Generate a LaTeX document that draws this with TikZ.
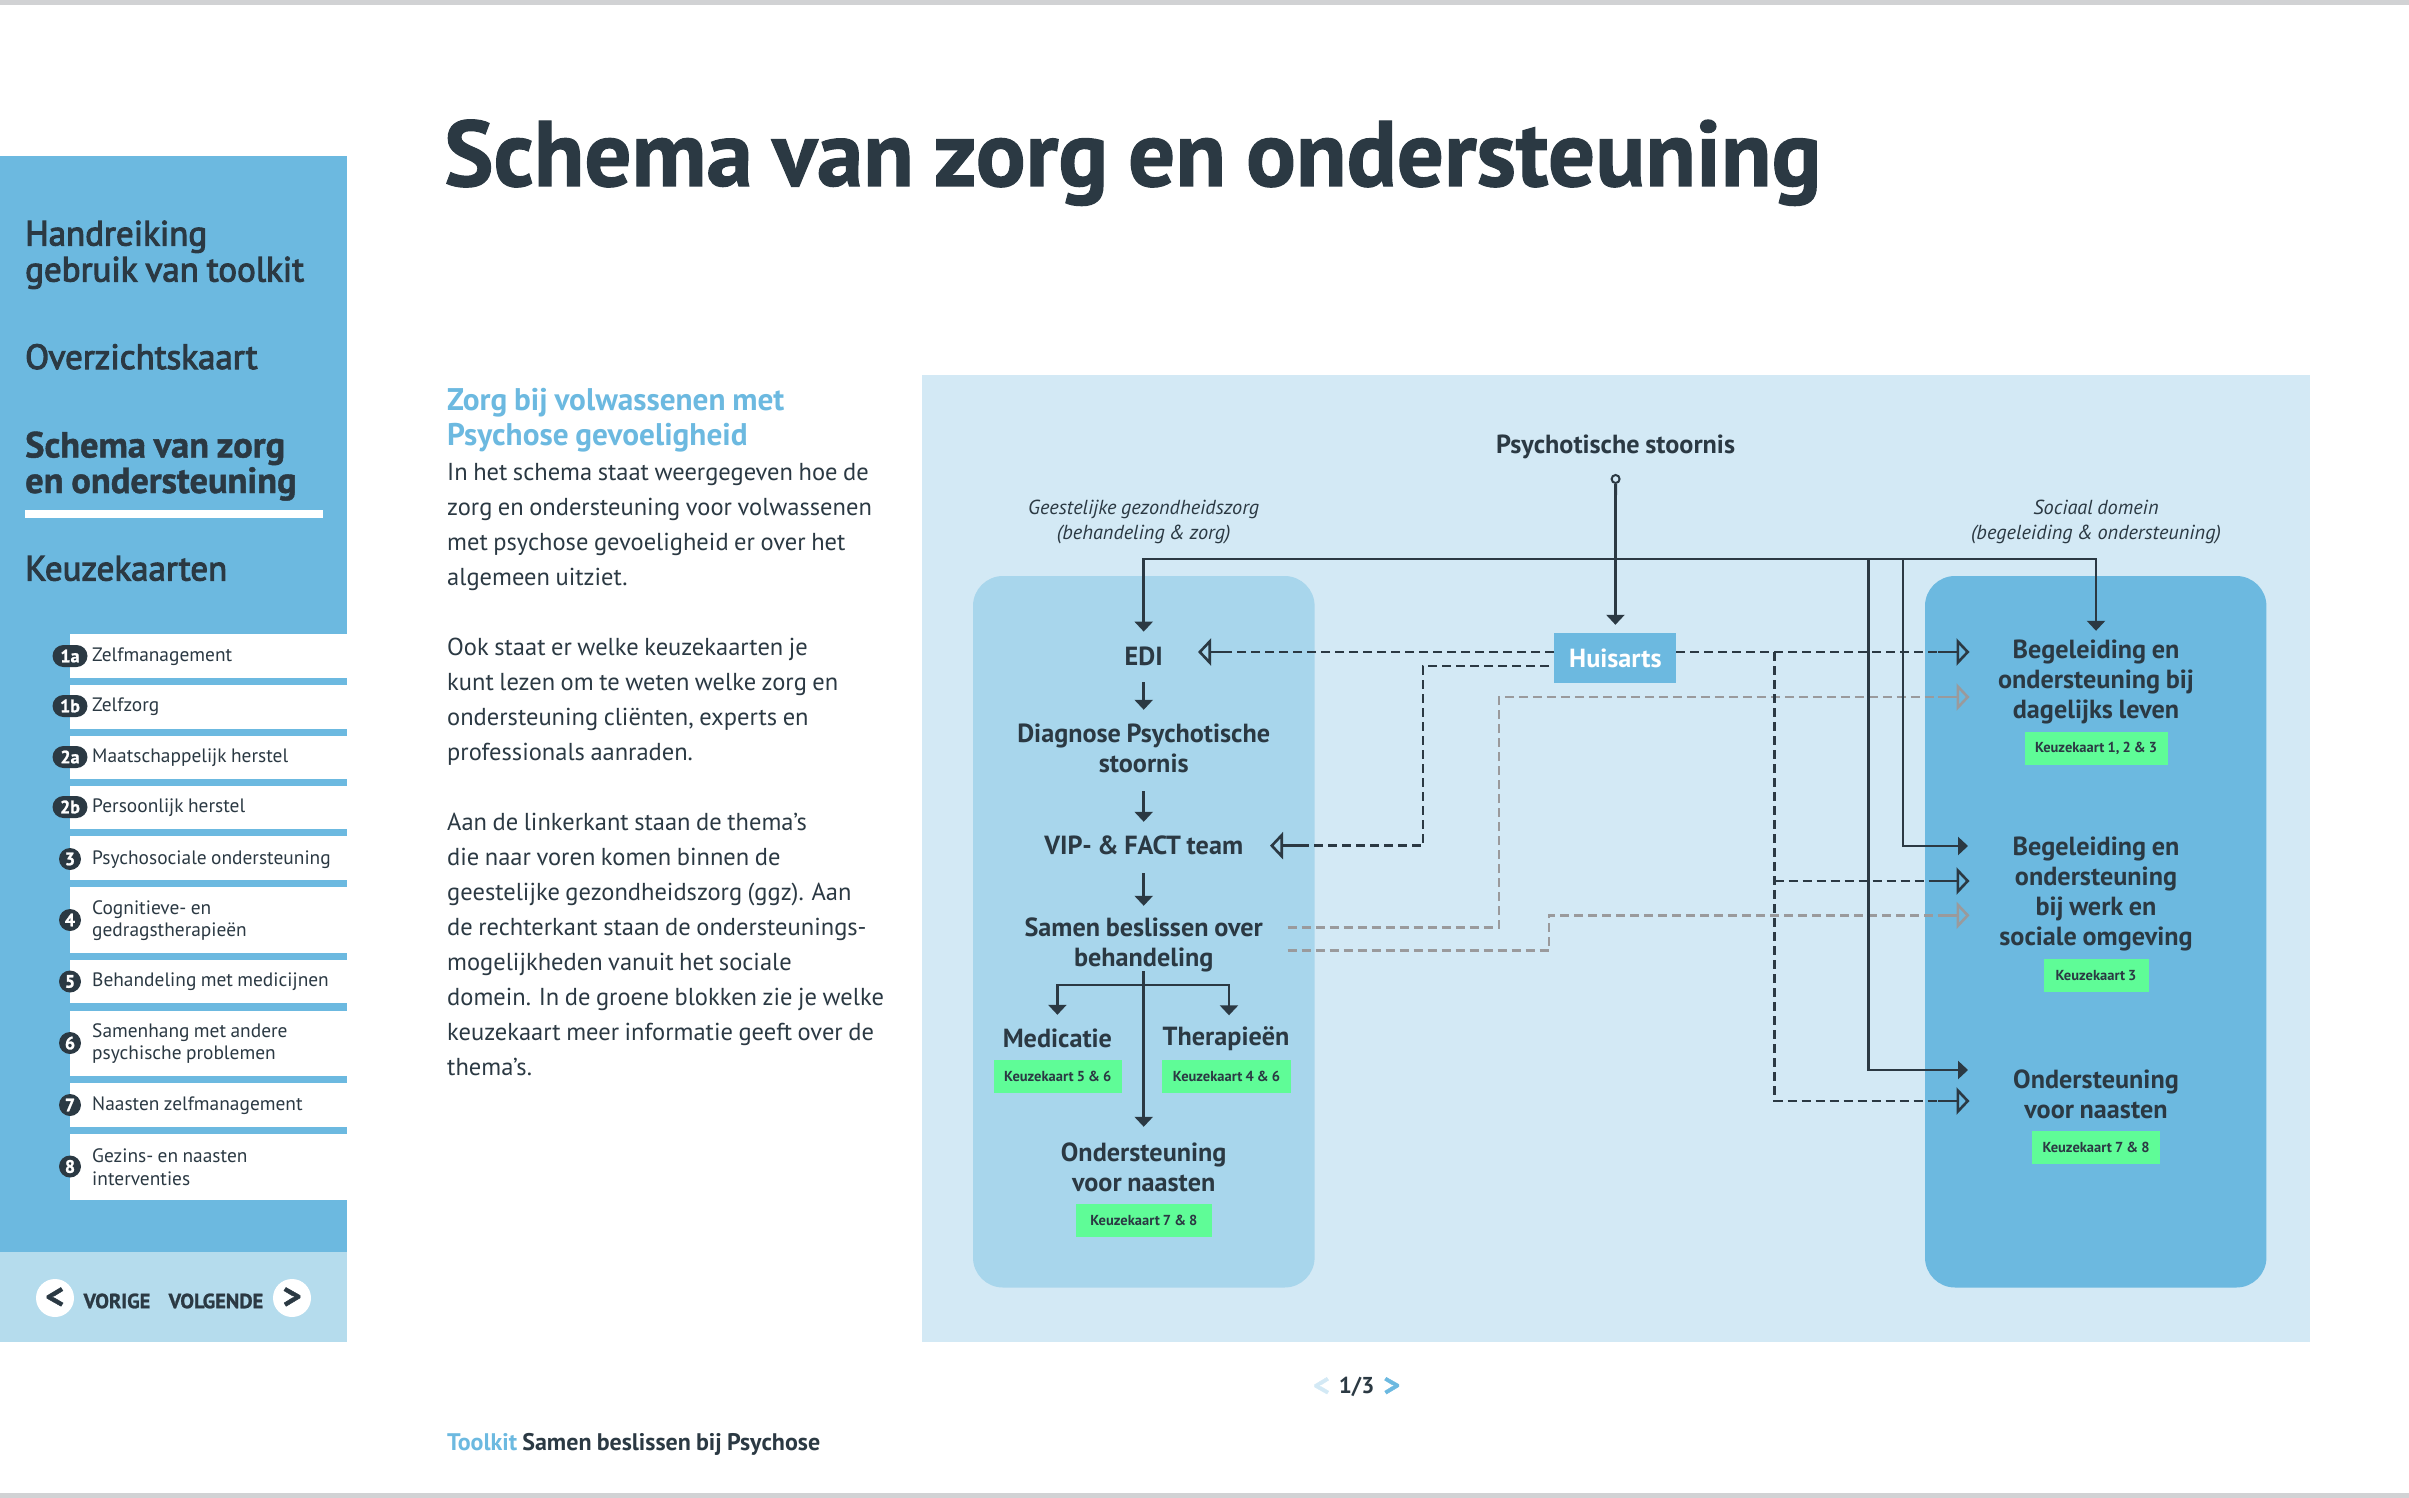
\documentclass[tikz,border=0pt]{standalone}
\usepackage{fontspec}
\usetikzlibrary{arrows.meta}
\setmainfont[WordSpace=0.85]{PT Sans}
\newfontfamily\semifont[FakeBold=3,WordSpace=0.85]{PT Sans}
\newfontfamily\zwaarfont[FakeBold=1.2,WordSpace=0.85]{PT Sans Bold}
\definecolor{donker}{HTML}{2B3943}
\definecolor{midblauw}{HTML}{6CB9E0}
\definecolor{paneel}{HTML}{D3E9F5}
\definecolor{vak}{HTML}{A8D6EC}
\definecolor{navblauw}{HTML}{B5DCED}
\definecolor{groen}{HTML}{5FFC97}
\definecolor{balk}{HTML}{D1D2D4}
\definecolor{grijs}{HTML}{9A9A9C}
\tikzset{
	stap/.style={inner sep=0pt, align=center, text=donker, font=\fontsize{26.2}{30}\selectfont\bfseries},
	kaart/.style={fill=groen, inner sep=0pt, minimum height=33pt, text=donker, font=\fontsize{14.5}{17}\selectfont\bfseries},
	lijn/.style={draw=donker, line width=2.8pt, -{Triangle[length=10pt,width=18pt]}},
	stippel/.style={draw=donker, line width=2.6pt, dash pattern=on 9pt off 5pt, -{Triangle[open,length=13pt,width=27pt]}},
	vaag/.style={stippel, draw=grijs},
	badge/.style={fill=donker, text=white, rounded corners=11pt, minimum height=22pt, inner sep=0pt, font=\fontsize{18}{18}\zwaarfont},
	menu/.style={anchor=base west, inner sep=0pt, text=donker, align=left, font=\fontsize{35}{36}\semifont},
	rij/.style={anchor=west, inner sep=0pt, text=donker, align=left, font=\fontsize{19.4}{22.5}\selectfont},
	navknop/.style={circle, fill=white, minimum size=38pt, inner sep=0pt, text=donker, font=\fontsize{36}{36}\zwaarfont},
	navtekst/.style={inner sep=0pt, text=donker, font=\fontsize{20.5}{20.5}\zwaarfont},
}
\begin{document}
\begin{tikzpicture}[x=1pt, y=-1pt]
	\useasboundingbox (0,0) rectangle (2409,1498);
	% 1. Balken boven en onder
	\fill[balk] (0,0) rectangle (2409,5);
	\fill[balk] (0,1493) rectangle (2409,1498);
	% 2. Zijbalk
	\fill[midblauw] (0,156) rectangle (347,1252);
	\fill[navblauw] (0,1252) rectangle (347,1342);
	\node[menu] (handreiking) at (25,245.5) {Handreiking};
	\node[menu] (gebruik) at (25,281.5) {gebruik van toolkit};
	\node[menu] (overzicht) at (25,369) {Overzichtskaart};
	\node[menu, font=\fontsize{36.4}{36}\zwaarfont] (schema) at (25,457.5) {Schema van zorg};
	\node[menu, font=\fontsize{36.4}{36}\zwaarfont] (schematwee) at (25,493) {en ondersteuning};
	\fill[white] (24.5,510) rectangle (323,518);
	\node[menu] (keuze) at (25,580.5) {Keuzekaarten};
	% 3. Lijst met keuzekaarten
	\foreach \id/\boven/\onder/\midden/\breed/\tekst in {
		1a/634/678/656/35/Zelfmanagement,
		1b/685/729/706/35/Zelfzorg,
		2a/736/779/757/35/Maatschappelijk herstel,
		2b/786/829/807/35/Persoonlijk herstel,
		3/836/880/859/22/Psychosociale ondersteuning,
		4/887/953/920/22/{Cognitieve- en\\gedragstherapieën},
		5/960/1003/981.5/22/Behandeling met medicijnen,
		6/1011/1076/1043/22/{Samenhang met andere\\psychische problemen},
		7/1083/1127/1105/22/Naasten zelfmanagement,
		8/1134/1199.5/1166.5/22/{Gezins- en naasten\\interventies}} {
		\fill[white] (70,\boven) rectangle (347,\onder);
		\node[badge, minimum width=\breed pt] (nr\id) at (70,\midden) {\id};
		\node[rij] (rij\id) at (92,\midden+0.5) {\tekst};
	}
	% 4. Vorige en volgende
	\node[navknop] (vorig) at (55,1298) {<};
	\node[navknop] (volg) at (292,1298) {>};
	\node[navtekst] (vorige) at (117,1301) {VORIGE};
	\node[navtekst] (volgende) at (216,1301) {VOLGENDE};
	% 5. Titel en tekst
	\node[anchor=base west, inner sep=0pt, text=donker, font=\fontsize{93}{96}\zwaarfont] (titel) at (444,186) {Schema van zorg en ondersteuning};
	\node[anchor=north west, inner sep=0pt, text=donker, align=left, font=\fontsize{24.5}{35}\selectfont] (tekst) at (447,388) {
		\textcolor{midblauw}{\fontsize{31.3}{35}\selectfont\bfseries Zorg bij volwassenen met}\\
		\textcolor{midblauw}{\fontsize{31.3}{35}\selectfont\bfseries Psychose gevoeligheid}\\
		In het schema staat weergegeven hoe de\\
		zorg en ondersteuning voor volwassenen\\
		met psychose gevoeligheid er over het\\
		algemeen uitziet.\\[35pt]
		Ook staat er welke keuzekaarten je\\
		kunt lezen om te weten welke zorg en\\
		ondersteuning cliënten, experts en\\
		professionals aanraden.\\[35pt]
		Aan de linkerkant staan de thema’s\\
		die naar voren komen binnen de\\
		geestelijke gezondheidszorg (ggz). Aan\\
		de rechterkant staan de ondersteunings-\\
		mogelijkheden vanuit het sociale\\
		domein. In de groene blokken zie je welke\\
		keuzekaart meer informatie geeft over de\\
		thema’s.};
	% 6. Paneel met de twee vakken
	\fill[paneel] (922,375) rectangle (2310,1342);
	\fill[vak, rounded corners=30pt] (973,576) rectangle (1314.6,1287.5);
	\fill[midblauw, rounded corners=30pt] (1925,576) rectangle (2266.4,1287.5);
	% 7. Stappen links
	\node[stap] (psy) at (1615.6,447) {Psychotische stoornis};
	\node[inner sep=0pt, text=donker, align=center, font=\fontsize{20.3}{25}\selectfont\itshape] (ggz) at (1143.7,522) {Geestelijke gezondheidszorg\\(behandeling \& zorg)};
	\node[inner sep=0pt, text=donker, align=center, font=\fontsize{20.3}{25}\selectfont\itshape] (sociaal) at (2096,522) {Sociaal domein\\(begeleiding \& ondersteuning)};
	\node[stap, minimum height=50pt] (edi) at (1143.7,656.8) {EDI};
	\node[stap, minimum height=76pt] (diag) at (1143.7,748) {Diagnose Psychotische\\stoornis};
	\node[stap, minimum height=46pt] (vip) at (1143.7,845) {VIP- \& FACT team};
	\node[stap, minimum height=78pt] (samen) at (1143.7,945) {Samen beslissen over\\behandeling};
	\node[stap, minimum height=46pt] (med) at (1057.4,1038) {Medicatie};
	\node[stap, minimum height=46pt] (thera) at (1226,1038.5) {Therapieën};
	\node[stap, minimum height=80pt] (naasten) at (1143.7,1167) {Ondersteuning\\voor naasten};
	\node[kaart, minimum width=128pt] (kmed) at (1057.7,1076.3) {Keuzekaart 5 \& 6};
	\node[kaart, minimum width=129pt] (kthera) at (1226.5,1076.3) {Keuzekaart 4 \& 6};
	\node[kaart, minimum width=136pt] (knaasten) at (1143.9,1220.8) {Keuzekaart 7 \& 8};
	% 8. Huisarts en stappen rechts
	\node[fill=midblauw, minimum width=122pt, minimum height=50pt, inner sep=0pt, text=white, font=\fontsize{26.2}{30}\selectfont\bfseries] (huis) at (1615.4,658) {Huisarts};
	\node[stap, minimum height=102pt] (dagelijks) at (2096,682) {Begeleiding en\\ondersteuning bij\\dagelijks leven};
	\node[stap] (werk) at (2096,893.5) {Begeleiding en\\ondersteuning\\bij werk en\\sociale omgeving};
	\node[stap] (rnaasten) at (2096,1094) {Ondersteuning\\voor naasten};
	\node[kaart, minimum width=143pt] (kdag) at (2096,748) {Keuzekaart 1, 2 \& 3};
	\node[kaart, minimum width=105pt] (kwerk) at (2096,975.3) {Keuzekaart 3};
	\node[kaart, minimum width=128pt] (krnaasten) at (2096,1147.5) {Keuzekaart 7 \& 8};
	% 9. Punten waar de lijnen langs lopen
	\coordinate (kruis) at (1615.6,559);
	\coordinate (takb) at (1868.7,559);
	\coordinate (taka) at (1903,559);
	\coordinate (pijlwerk) at (1968,846);
	\coordinate (pijlnaasten) at (1968,1070);
	\coordinate (vork) at (1143.7,985);
	\coordinate (hedi) at (1554,652);
	\coordinate (pedi) at (1198,652);
	\coordinate (hvip) at (1549,666);
	\coordinate (hoekvip) at (1423,845.7);
	\coordinate (pvip) at (1270,845.7);
	\coordinate (hrechts) at (1676,652);
	\coordinate (pdag) at (1969.5,652);
	\coordinate (sprong) at (1774.5,652);
	\coordinate (sprongb) at (1774.5,881);
	\coordinate (pwerk) at (1969.5,881);
	\coordinate (pnaast) at (1969.5,1101);
	\coordinate (samena) at (1287.5,927.7);
	\coordinate (samenb) at (1287.5,950.7);
	\coordinate (grijsa) at (1498.8,697);
	\coordinate (grijsb) at (1549,915.3);
	\coordinate (pgrijsa) at (1969.5,697);
	\coordinate (pgrijsb) at (1969.5,915.3);
	% 10. Grijze stippellijnen
	\draw[vaag] (samena) -| (grijsa) -- (pgrijsa);
	\draw[vaag] (samenb) -| (grijsb) -- (pgrijsb);
	\foreach \p in {pgrijsa,pgrijsb}
		\draw[grijs, line width=2.6pt] (\p) ++(-32,0) -- ++(20,0);
	% 11. Doorgetrokken lijnen
	\node[circle, draw=donker, fill=paneel, line width=2pt, minimum size=8pt, inner sep=0pt] (begin) at (1615.6,479) {};
	\draw[lijn, shorten >=8pt] (begin) -- (huis.north);
	\draw[lijn] (kruis) -| (edi.north);
	\draw[lijn] (kruis) -| (dagelijks.north);
	\draw[lijn] (taka) |- (pijlwerk);
	\draw[lijn] (takb) |- (pijlnaasten);
	\draw[lijn] (edi.south) -- (diag.north);
	\draw[lijn, shorten <=5pt] (diag.south) -- (vip.north);
	\draw[lijn, shorten <=5pt] (vip.south) -- (samen.north);
	\draw[lijn, shorten <=-13pt] (samen.south) -- (naasten.north);
	\draw[lijn] (vork) -| (med.north);
	\draw[lijn] (vork) -| ([xshift=3pt]thera.north);
	% 12. Donkere stippellijnen
	\draw[stippel] (hedi) -- (pedi);
	\draw[stippel] (hvip) -| (hoekvip) -- (pvip);
	\draw[stippel] (hrechts) -- (pdag);
	\draw[stippel] (sprong) |- (pnaast);
	\draw[stippel] (sprongb) -- (pwerk);
	\foreach \p in {pdag,pwerk,pnaast}
		\draw[donker, line width=2.6pt] (\p) ++(-32,0) -- ++(20,0);
	\foreach \p in {pedi,pvip}
		\draw[donker, line width=2.6pt] (\p) ++(32,0) -- ++(-20,0);
	% 13. Onderaan
	\node[text=paneel, inner sep=0pt, font=\fontsize{32}{32}\zwaarfont] (pagterug) at (1321.6,1386.7) {<};
	\node[text=donker, inner sep=0pt, font=\fontsize{23}{24}\selectfont\bfseries] (pagina) at (1356.6,1386.7) {1/3};
	\node[text=midblauw, inner sep=0pt, font=\fontsize{32}{32}\zwaarfont] (pagvoor) at (1391.7,1386.7) {>};
	\node[anchor=base west, inner sep=0pt, text=donker, font=\fontsize{24}{24}\selectfont\bfseries] (voet) at (447,1450.7) {\textcolor{midblauw}{Toolkit} Samen beslissen bij Psychose};
\end{tikzpicture}
\end{document}
